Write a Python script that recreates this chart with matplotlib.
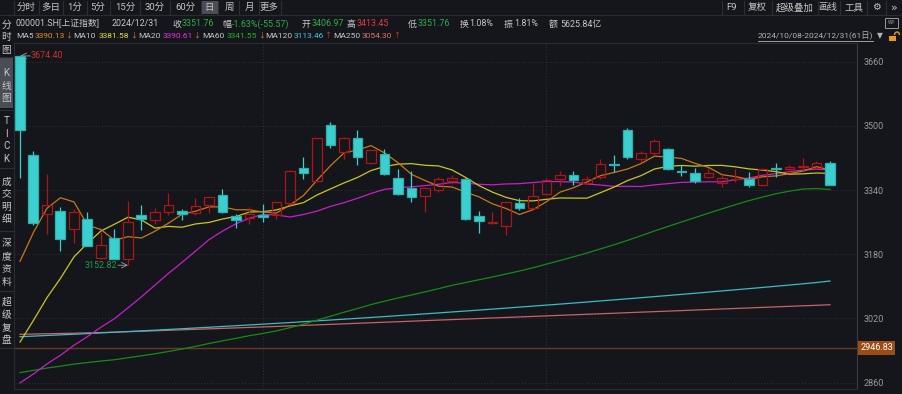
import matplotlib.pyplot as plt
from matplotlib.patches import Rectangle, Arc
from matplotlib.lines import Line2D
import numpy as np
import pandas as pd

W, H = 903, 394
BG = '#14161b'
plt.rcParams['font.family'] = ['Roboto', 'Noto Sans CJK SC', 'DejaVu Sans']

# 上证指数 日K 2024/10/08 - 2024/12/31 (61日)
opens = [3674.40, 3427.5, 3280.5, 3288.0, 3242.0, 3267.0, 3170.0, 3220.5, 3167.5, 3277.0,
         3265.5, 3286.3, 3288.0, 3282.0, 3302.0, 3328.0, 3276.3, 3270.0, 3278.0, 3278.0,
         3307.0, 3394.3, 3362.0, 3501.4, 3434.1, 3469.0, 3407.5, 3430.0, 3369.3, 3345.2,
         3326.1, 3339.4, 3363.5, 3367.7, 3274.6, 3257.0, 3251.4, 3307.9, 3296.2, 3329.5,
         3367.7, 3376.8, 3357.7, 3371.8, 3404.5, 3489.8, 3417.5, 3433.0, 3443.3, 3388.4,
         3381.8, 3371.8, 3357.7, 3366.5, 3367.7, 3353.5, 3394.5, 3391.8, 3398.5, 3396.0,
         3406.97]
highs = [3674.40, 3437.5, 3380.0, 3299.0, 3292.0, 3285.0, 3236.0, 3242.0, 3314.0, 3303.0,
         3295.0, 3332.0, 3294.0, 3319.5, 3324.0, 3342.0, 3280.0, 3297.0, 3304.5, 3311.0,
         3390.0, 3421.7, 3471.0, 3509.0, 3472.0, 3489.0, 3441.0, 3442.5, 3392.6, 3387.6,
         3348.0, 3373.5, 3377.6, 3370.0, 3288.0, 3286.3, 3310.0, 3319.5, 3358.5, 3369.3,
         3387.6, 3388.4, 3376.0, 3417.5, 3427.5, 3494.8, 3438.0, 3466.5, 3445.0, 3401.7,
         3396.0, 3394.3, 3377.6, 3391.8, 3385.0, 3394.3, 3407.5, 3401.7, 3420.0, 3411.7,
         3413.45]
lows = [3371.0, 3252.0, 3230.0, 3189.0, 3207.0, 3200.0, 3168.0, 3168.0, 3152.82, 3240.5,
        3255.5, 3278.0, 3265.5, 3278.0, 3282.0, 3283.0, 3246.4, 3254.7, 3261.3, 3267.0,
        3303.0, 3367.0, 3360.0, 3444.0, 3416.7, 3402.6, 3404.0, 3377.0, 3329.0, 3311.0,
        3286.3, 3336.0, 3355.0, 3266.0, 3234.0, 3255.5, 3228.0, 3290.4, 3294.0, 3327.0,
        3350.0, 3353.5, 3355.0, 3366.8, 3386.0, 3418.3, 3410.0, 3427.5, 3390.0, 3376.0,
        3358.5, 3370.0, 3347.0, 3360.0, 3348.6, 3351.0, 3371.8, 3386.0, 3388.4, 3393.0,
        3351.76]
closes = [3489.78, 3258.86, 3301.93, 3217.74, 3284.32, 3201.29, 3202.95, 3169.38, 3261.56, 3268.11,
          3285.87, 3302.80, 3280.26, 3299.70, 3322.20, 3286.41, 3266.24, 3279.82, 3272.01, 3310.21,
          3386.99, 3383.81, 3470.66, 3452.30, 3470.07, 3421.97, 3439.28, 3379.84, 3330.73, 3323.85,
          3346.01, 3367.99, 3370.40, 3267.19, 3263.76, 3259.76, 3309.78, 3295.70, 3326.46, 3363.98,
          3378.81, 3364.65, 3368.86, 3404.08, 3402.53, 3422.66, 3432.49, 3461.50, 3391.88, 3386.33,
          3361.49, 3382.21, 3370.03, 3368.07, 3351.88, 3393.53, 3393.35, 3398.08, 3400.14, 3407.33,
          3351.76]

# closes before 10/08 (2024/07/08 - 2024/09/30), needed by the MA lines
prev_closes = [2922.45, 2959.37, 2939.36, 2970.39, 2971.30, 2974.01, 2976.30, 2962.95, 2977.13, 2982.31,
               2964.22, 2915.37, 2901.95, 2886.74, 2890.90, 2891.85, 2879.30, 2938.75, 2932.39, 2905.34,
               2860.70, 2867.28, 2869.83, 2869.90, 2862.19, 2858.20, 2867.95, 2850.65, 2877.36, 2879.43,
               2893.67, 2866.66, 2856.58, 2838.15, 2854.37, 2855.52, 2848.77, 2837.43, 2823.11, 2842.21,
               2811.04, 2802.98, 2784.28, 2788.31, 2765.81, 2736.49, 2744.19, 2721.80, 2717.12, 2704.09,
               2717.28, 2736.02, 2736.81, 2748.92, 2863.13, 2896.31, 3000.95, 3087.53, 3336.50]

# long MAs
ma120 = [2974.6, 2976.1, 2977.7, 2979.2, 2980.8, 2982.4, 2984.1, 2985.8, 2987.5, 2989.2,
         2990.9, 2992.7, 2994.5, 2996.4, 2998.2, 3000.1, 3002.0, 3004.0, 3005.9, 3007.9,
         3009.9, 3012.0, 3014.1, 3016.2, 3018.3, 3020.4, 3022.6, 3024.8, 3027.1, 3029.3,
         3031.6, 3033.9, 3036.3, 3038.6, 3041.0, 3043.4, 3045.9, 3048.4, 3050.9, 3053.4,
         3055.9, 3058.5, 3061.1, 3063.8, 3066.4, 3069.1, 3071.8, 3074.6, 3077.3, 3080.1,
         3082.9, 3085.8, 3088.7, 3091.6, 3094.5, 3097.4, 3100.4, 3103.4, 3106.5, 3109.7,
         3113.46]
ma250 = [2980.6, 2981.3, 2982.0, 2982.7, 2983.4, 2984.2, 2985.0, 2986.0, 2987.1, 2988.2,
         2989.4, 2990.6, 2991.8, 2993.0, 2994.2, 2995.4, 2996.6, 2997.8, 2999.0, 3000.2,
         3001.5, 3002.8, 3004.1, 3005.4, 3006.7, 3008.1, 3009.4, 3010.7, 3012.0, 3013.3,
         3014.7, 3016.0, 3017.3, 3018.6, 3019.9, 3021.3, 3022.6, 3023.9, 3025.2, 3026.5,
         3027.9, 3029.2, 3030.5, 3031.8, 3033.1, 3034.5, 3035.8, 3037.1, 3038.4, 3039.7,
         3041.1, 3042.4, 3043.7, 3045.0, 3046.3, 3047.7, 3049.0, 3050.3, 3051.6, 3052.9,
         3054.30]

# values shown in the MA legend row
ma_periods = [5, 10, 20, 60, 120, 250]
ma_labels = ['3390.13', '3381.58', '3390.61', '3341.55', '3113.46', '3054.30']
ma_arrows = ['↓', '↓', '↓', '↓', '↑', '↑']

price_ticks = [3660, 3500, 3340, 3180, 3020, 2860]
ref_price = 2946.83
month_starts = [18, 39]   # 11/01, 12/02

n = len(closes)
allc = pd.Series(prev_closes + closes)
ma = {}
for k in [5, 10, 20, 60]:
    ma[k] = allc.rolling(k).mean().values[-n:]
ma[120] = np.array(ma120)
ma[250] = np.array(ma250)

ma_line_col = {5: '#c87814', 10: '#c8c81a', 20: '#c81ec8', 60: '#148c14', 120: '#3cbcc4', 250: '#c86464'}
ma_text_col = {5: '#e8901e', 10: '#e6e61e', 20: '#e632e6', 60: '#22b422', 120: '#46c8d2', 250: '#e27272'}

RED = '#b01414'
CYAN = '#3ccfcf'
CYAN_E = '#2eb0b0'


def fx(x):
    return x / W


def fy(y):
    return 1 - y / H


fig = plt.figure(figsize=(W / 100, H / 100), dpi=100, facecolor=BG)
renderer = fig.canvas.get_renderer()

# ---- chart ----
ax = fig.add_axes([fx(14), fy(389), (857 - 14) / W, (389 - 43) / H])
ax.set_facecolor(BG)
x = np.arange(n)

for p in price_ticks:
    ax.axhline(p, color='#30333b', lw=0.7, ls=(0, (1, 2)), zorder=0)
for m in month_starts:
    ax.axvline(m, color='#30333b', lw=0.7, ls=(0, (1, 2)), zorder=0)
ax.axhline(ref_price, color='#6b3a1e', lw=1.0, zorder=1)

for k in [250, 120, 60, 20, 10, 5]:
    ax.plot(x, ma[k], color=ma_line_col[k], lw=0.9, zorder=2)

o = np.array(opens)
c = np.array(closes)
hi = np.array(highs)
lo = np.array(lows)
up = c >= o
top = np.maximum(o, c)
bot = np.minimum(o, c)
body = np.maximum(top - bot, 1.5)
faces = ['none' if u else CYAN for u in up]
edges = [RED if u else CYAN_E for u in up]
wick = [RED if u else CYAN for u in up]
ax.vlines(x, top, hi, colors=wick, lw=0.9, zorder=3)
ax.vlines(x, lo, bot, colors=wick, lw=0.9, zorder=3)
ax.bar(x, body, bottom=bot, width=0.74, color=faces, edgecolor=edges, linewidth=0.9, zorder=4)

# max / min markers
imax = int(np.argmax(hi))
imin = int(np.argmin(lo))
ax.annotate('', xy=(imax, hi[imax]), xytext=(imax + 0.75, hi[imax]),
            arrowprops=dict(arrowstyle='->', color='#a0a0a0', lw=0.6, shrinkA=0, shrinkB=0))
ax.text(imax + 0.8, hi[imax], f'{hi[imax]:.2f}', color='#d0302c', fontsize=6.5, va='center', ha='left')
ax.annotate('', xy=(imin, lo[imin]), xytext=(imin - 0.75, lo[imin]),
            arrowprops=dict(arrowstyle='->', color='#a0a0a0', lw=0.6, shrinkA=0, shrinkB=0))
ax.text(imin - 0.8, lo[imin], f'{lo[imin]:.2f}', color='#1e9e46', fontsize=6.5, va='center', ha='right')

ax.set_xlim(-0.444, 62.0)
ax.set_ylim(2844.3, 3706.6)
ax.set_xticks([])
ax.yaxis.tick_right()
ax.set_yticks(price_ticks)
ax.set_yticklabels([str(p) for p in price_ticks])
ax.tick_params(axis='y', length=0, pad=5, labelsize=6.5, labelcolor='#9a9a9a')
for s in ['top', 'bottom', 'left']:
    ax.spines[s].set_color('#2a2c33')
    ax.spines[s].set_linewidth(0.8)
ax.spines['right'].set_color('#3a3d45')
ax.spines['right'].set_linewidth(0.8)

ax.text(1.004, ref_price, f'{ref_price:.2f}', transform=ax.get_yaxis_transform(),
        color='white', fontsize=6.5, va='center', ha='left',
        bbox=dict(boxstyle='square,pad=0.25', fc='#9c4c14', ec='none'))

# ---- top toolbar ----
fig.add_artist(Line2D([0, 1], [fy(14.5), fy(14.5)], color='#2a2c33', lw=0.8))
fig.add_artist(Rectangle((fx(201), fy(14)), 17 / W, 13 / H, fc='#4a4d56', ec='none'))
buttons = [('分时', 26), ('多日', 51), ('1分', 75), ('5分', 98), ('15分', 125), ('30分', 155),
           ('60分', 185), ('日', 209.5), ('周', 229), ('月', 249), ('更多', 269)]
for lab, bx in buttons:
    fig.text(fx(bx), fy(7.5), lab, color='#c4c4c4', fontsize=6.8, ha='center', va='center')
for sx in [14, 39, 63, 87, 110, 140, 170, 201, 218, 239, 259, 281]:
    fig.add_artist(Line2D([fx(sx), fx(sx)], [fy(1), fy(14)], color='#2c2e35', lw=0.8))
rbtn = [('F9', 732), ('复权', 757), ('超级叠加', 795), ('画线', 828), ('工具', 854)]
for lab, bx in rbtn:
    fig.text(fx(bx), fy(7.5), lab, color='#c4c4c4', fontsize=6.8, ha='center', va='center')
for sx in [722, 744, 772, 818, 840, 867, 886]:
    fig.add_artist(Line2D([fx(sx), fx(sx)], [fy(1), fy(14)], color='#2c2e35', lw=0.8))
fig.text(fx(876), fy(7.5), '⚙', color='#c4c4c4', fontsize=7, ha='center', va='center',
         family='DejaVu Sans')
fig.text(fx(894), fy(7.5), '»', color='#c4c4c4', fontsize=8, ha='center', va='center',
         family='DejaVu Sans')

# ---- quote row ----
GRAY = '#c8c8c8'
GREEN = '#28b048'
REDT = '#e03c3c'
quote = [('000001.SH[上证指数]', 16, GRAY), ('2024/12/31', 112, GRAY),
         ('收', 172, GRAY), ('3351.76', 182, GREEN),
         ('幅', 222, GRAY), ('-1.63%(-55.57)', 232, GREEN),
         ('开', 302, GRAY), ('3406.97', 312, GREEN),
         ('高', 347, GRAY), ('3413.45', 357, REDT),
         ('低', 408, GRAY), ('3351.76', 418, GREEN),
         ('换', 460, GRAY), ('1.08%', 469, GRAY),
         ('振', 504, GRAY), ('1.81%', 514, GRAY),
         ('额', 549, GRAY), ('5625.84亿', 560, GRAY)]
for s, qx, col in quote:
    fig.text(fx(qx), fy(24), s, color=col, fontsize=6.4, ha='left', va='center')
fig.add_artist(Rectangle((fx(885.5), fy(28)), 13 / W, 10 / H, fc='none', ec='#9a9a9a', lw=0.7))
fig.text(fx(892), fy(23), 'WP', color='#9a9a9a', fontsize=3.5, ha='center', va='center')

# ---- MA row ----
ma_pos = {5: (16, 35), 10: (73, 99), 20: (138, 163), 60: (202, 227), 120: (265, 294), 250: (333, 362)}
for k, lab, arrow in zip(ma_periods, ma_labels, ma_arrows):
    lx, vx = ma_pos[k]
    fig.text(fx(lx), fy(36), f'MA{k}', color=GRAY, fontsize=6.0, ha='left', va='center')
    t = fig.text(fx(vx), fy(36), lab, color=ma_text_col[k], fontsize=6.0,
                 ha='left', va='center')
    x1 = t.get_window_extent(renderer).x1
    fig.text(fx(x1 + 0.3), fy(36), arrow, color='#e8702a' if arrow == '↓' else REDT,
             fontsize=5.0, ha='left', va='center')
fig.text(fx(758), fy(36), '2024/10/08-2024/12/31(61日)', color='#b4b4b4', fontsize=6.0,
         ha='left', va='center')
fig.add_artist(Line2D([fx(758), fx(873)], [fy(41), fy(41)], color='#b4b4b4', lw=0.6))
fig.text(fx(880), fy(35.5), '▼', color='#b4b4b4', fontsize=5.5, ha='center', va='center',
         family='DejaVu Sans')
fig.add_artist(Rectangle((fx(889), fy(41)), 7 / W, 5 / H, fc='#e89a1a', ec='none'))
fig.add_artist(Arc((fx(897), fy(35)), 5 / W, 6 / H, theta1=0, theta2=180, color='#e89a1a', lw=1.0))

# ---- left side bar ----
fig.add_artist(Rectangle((0, fy(108)), 13 / W, 50 / H, fc='#4a4d56', ec='none'))
side = [('分', 25), ('时', 37), ('图', 50),
        ('K', 73), ('线', 86), ('图', 98),
        ('T', 121), ('I', 134), ('C', 146), ('K', 159),
        ('成', 182), ('交', 194), ('明', 207), ('细', 219),
        ('深', 243), ('度', 256), ('资', 269), ('料', 282),
        ('超', 302), ('级', 315), ('复', 328), ('盘', 340)]
for ch, sy in side:
    fig.text(fx(6.5), fy(sy), ch, color='#c8c8c8', fontsize=7, ha='center', va='center')
for sy in [57, 110, 168, 231, 291, 348]:
    fig.add_artist(Line2D([0, fx(13)], [fy(sy), fy(sy)], color='#2c2e35', lw=0.8))

fig.savefig('out.png', dpi=100, facecolor=BG)
